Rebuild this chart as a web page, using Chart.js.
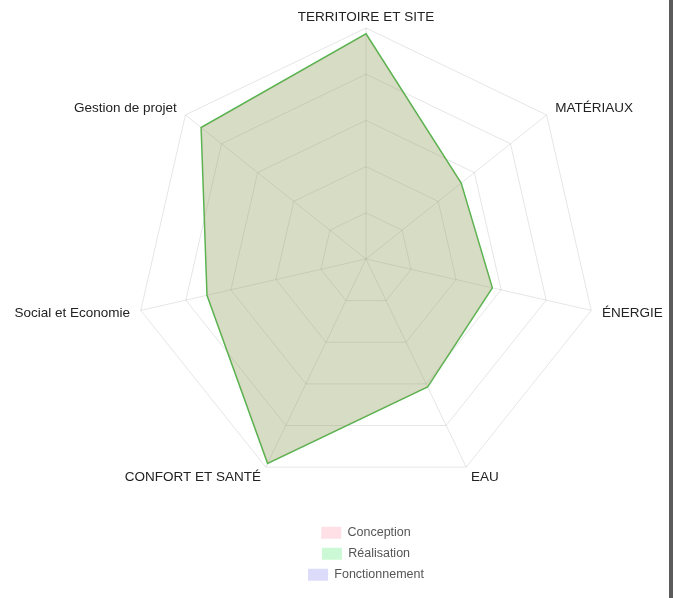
<!DOCTYPE html>
<html>
<head>
<meta charset="utf-8">
<script src="https://cdn.jsdelivr.net/npm/chart.js@4.4.1/dist/chart.umd.min.js"></script>
<style>
    html, body {
        margin: 0;
        padding: 0;
        background: #fff;
        overflow: hidden;
    }
    .chart-box {
        position: absolute;
        left: 0;
        top: 0;
        width: 732px;
        height: 598px;
    }
    .side-bar {
        position: absolute;
        left: 669px;
        top: 0;
        width: 4px;
        height: 598px;
        background: #5b5b5b;
    }
</style>
</head>
<body>
<div class="chart-box"><canvas id="radar-chart"></canvas></div>
<div class="side-bar"></div>
<script>
    const labels = ['TERRITOIRE ET SITE', 'MATÉRIAUX', 'ÉNERGIE', 'EAU', 'CONFORT ET SANTÉ', 'Social et Economie', 'Gestion de projet'];
    const conception = [97.5, 52.7, 56.1, 61.5, 98.2, 70.6, 91.3];
    const realisation = [97.5, 52.7, 56.1, 61.5, 98.2, 70.6, 91.3];
    const fonctionnement = [];

    // largeur max d'une ligne de légende : une entrée par ligne
    const LEGEND_ROW_WIDTH = 150;

    const legendRows = {
        id: 'legendRows',
        beforeInit(chart) {
            const legend = chart.legend;
            if (!legend) return;
            const fitRows = legend._fitRows;
            legend._fitRows = function (...args) {
                const w = this.maxWidth;
                this.maxWidth = LEGEND_ROW_WIDTH;
                const h = fitRows.apply(this, args);
                this.maxWidth = w;
                return h;
            };
            const draw = legend._draw;
            legend._draw = function () {
                const left = this.left;
                const right = this.right;
                const mid = (left + right) / 2;
                this.left = mid - LEGEND_ROW_WIDTH / 2;
                this.right = mid + LEGEND_ROW_WIDTH / 2;
                draw.call(this);
                this.left = left;
                this.right = right;
            };
        }
    };

    const baseLabels = Chart.defaults.plugins.legend.labels.generateLabels;

    new Chart(document.getElementById('radar-chart'), {
        type: 'radar',
        plugins: [legendRows],
        data: {
            labels: labels,
            datasets: [
                {
                    label: 'Conception',
                    data: conception,
                    backgroundColor: 'rgba(255, 99, 132, 0.2)',
                    borderColor: 'rgba(255, 99, 132, 0.2)',
                    borderWidth: 0,
                    fill: true
                },
                {
                    label: 'Réalisation',
                    data: realisation,
                    backgroundColor: 'rgba(0, 225, 45, 0.2)',
                    borderColor: '#4cbb4c',
                    borderWidth: 1.5,
                    fill: true
                },
                {
                    label: 'Fonctionnement',
                    data: fonctionnement,
                    backgroundColor: 'rgba(80, 80, 230, 0.2)',
                    borderColor: 'rgba(80, 80, 230, 0.2)',
                    borderWidth: 0,
                    fill: true
                }
            ]
        },
        options: {
            responsive: true,
            maintainAspectRatio: false,
            animation: false,
            layout: {
                padding: {top: 12, bottom: 7}
            },
            elements: {
                line: {tension: 0},
                point: {radius: 0, hoverRadius: 0}
            },
            scales: {
                r: {
                    min: 0,
                    max: 100,
                    ticks: {
                        stepSize: 20,
                        display: false
                    },
                    grid: {color: 'rgba(0, 0, 0, 0.1)'},
                    angleLines: {color: 'rgba(0, 0, 0, 0.1)'},
                    pointLabels: {
                        color: '#222',
                        padding: 11,
                        // texte centré sur le point d'ancrage
                        font: {family: '"Liberation Sans", Arial, sans-serif', size: 13.5, lineHeight: 0}
                    }
                }
            },
            plugins: {
                tooltip: {enabled: false},
                legend: {
                    position: 'bottom',
                    title: {
                        display: true,
                        text: '',
                        padding: {top: 22, bottom: 0},
                        font: {lineHeight: 0}
                    },
                    labels: {
                        color: '#555',
                        boxWidth: 20,
                        boxHeight: 12,
                        padding: 8.5,
                        font: {family: '"Liberation Sans", Arial, sans-serif', size: 12.5},
                        generateLabels(chart) {
                            return baseLabels(chart).map(item => Object.assign(item, {lineWidth: 0}));
                        }
                    }
                }
            }
        }
    });
</script>
</body>
</html>
